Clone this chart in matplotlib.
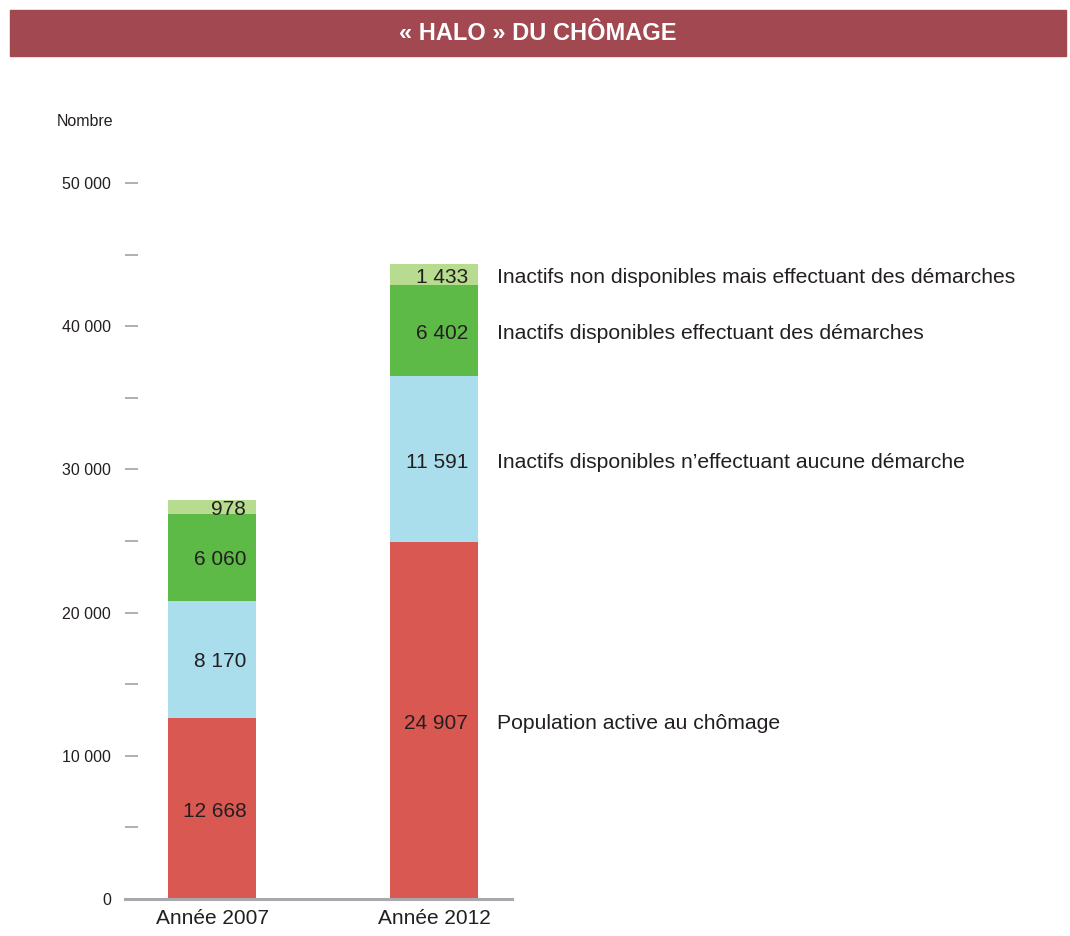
import matplotlib
matplotlib.use("Agg")
import matplotlib.pyplot as plt
from matplotlib.patches import Rectangle
import numpy as np

plt.rcParams['font.family'] = ['Liberation Sans', 'DejaVu Sans']

years = ["Année 2007", "Année 2012"]
series = [
    "Population active au chômage",
    "Inactifs disponibles n\u2019effectuant aucune démarche",
    "Inactifs disponibles effectuant des démarches",
    "Inactifs non disponibles mais effectuant des démarches",
]
values = [
    [12668, 24907],
    [8170, 11591],
    [6060, 6402],
    [978, 1433],
]
colors = ["#D95852", "#AADEEC", "#5EBA47", "#B8DC8F"]
yticks = [0, 10000, 20000, 30000, 40000, 50000]


def fmt(v):
    return f"{v:,}".replace(",", " ")


fig = plt.figure(figsize=(10.7, 9.36), dpi=100)

# bandeau du titre
fig.patches.append(Rectangle((10 / 1070, 1 - 56 / 936), 1056 / 1070, 46 / 936,
                             transform=fig.transFigure, color="#A24851", zorder=0))
fig.text(538 / 1070, 1 - 33 / 936, "\u00ab HALO \u00bb DU CHÔMAGE", color="white",
         fontsize=17, fontweight="bold", ha="center", va="center")

ax = fig.add_axes([125 / 1070, 37 / 936, 387 / 1070, 716 / 936])
x = np.arange(len(years))
width = 0.396
bottom = np.zeros(len(years))
for i, (name, vals, col) in enumerate(zip(series, values, colors)):
    vals = np.array(vals)
    ax.bar(x, vals, width, bottom=bottom, color=col, linewidth=0, zorder=2)
    for j in range(len(years)):
        ax.annotate(fmt(vals[j]), (x[j] + width / 2, bottom[j] + vals[j] / 2),
                    xytext=(-7, -2), textcoords="offset points",
                    ha="right", va="center", fontsize=15, color="#231F20",
                    annotation_clip=False)
    ax.annotate(name, (x[-1] + width / 2, bottom[-1] + vals[-1] / 2),
                xytext=(14, -2), textcoords="offset points",
                ha="left", va="center", fontsize=15.2, color="#231F20",
                annotation_clip=False)
    bottom = bottom + vals

ax.set_xlim(-0.392, 1.351)
ax.set_ylim(0, 50000)
ax.set_yticks(yticks)
ax.set_yticklabels([fmt(v) for v in yticks])
ax.set_yticks(np.arange(5000, 50000, 10000), minor=True)
ax.tick_params(axis="y", which="both", direction="in", length=9, width=1.3,
               color="#A7A9AC", labelsize=11.5, pad=10, labelcolor="#231F20")
ax.set_xticks(x)
ax.set_xticklabels(years)
ax.tick_params(axis="x", length=0, labelsize=15, pad=7, labelcolor="#231F20")
for s in ["top", "right", "left"]:
    ax.spines[s].set_visible(False)
ax.spines["bottom"].set_color("#A7A9AC")
ax.spines["bottom"].set_linewidth(2.2)
ax.spines["bottom"].set_zorder(3)

fig.text(113 / 1070, 1 - 122 / 936, "Nombre", ha="right", va="center",
         fontsize=11.5, color="#231F20")

fig.savefig("out.png", dpi=100)
